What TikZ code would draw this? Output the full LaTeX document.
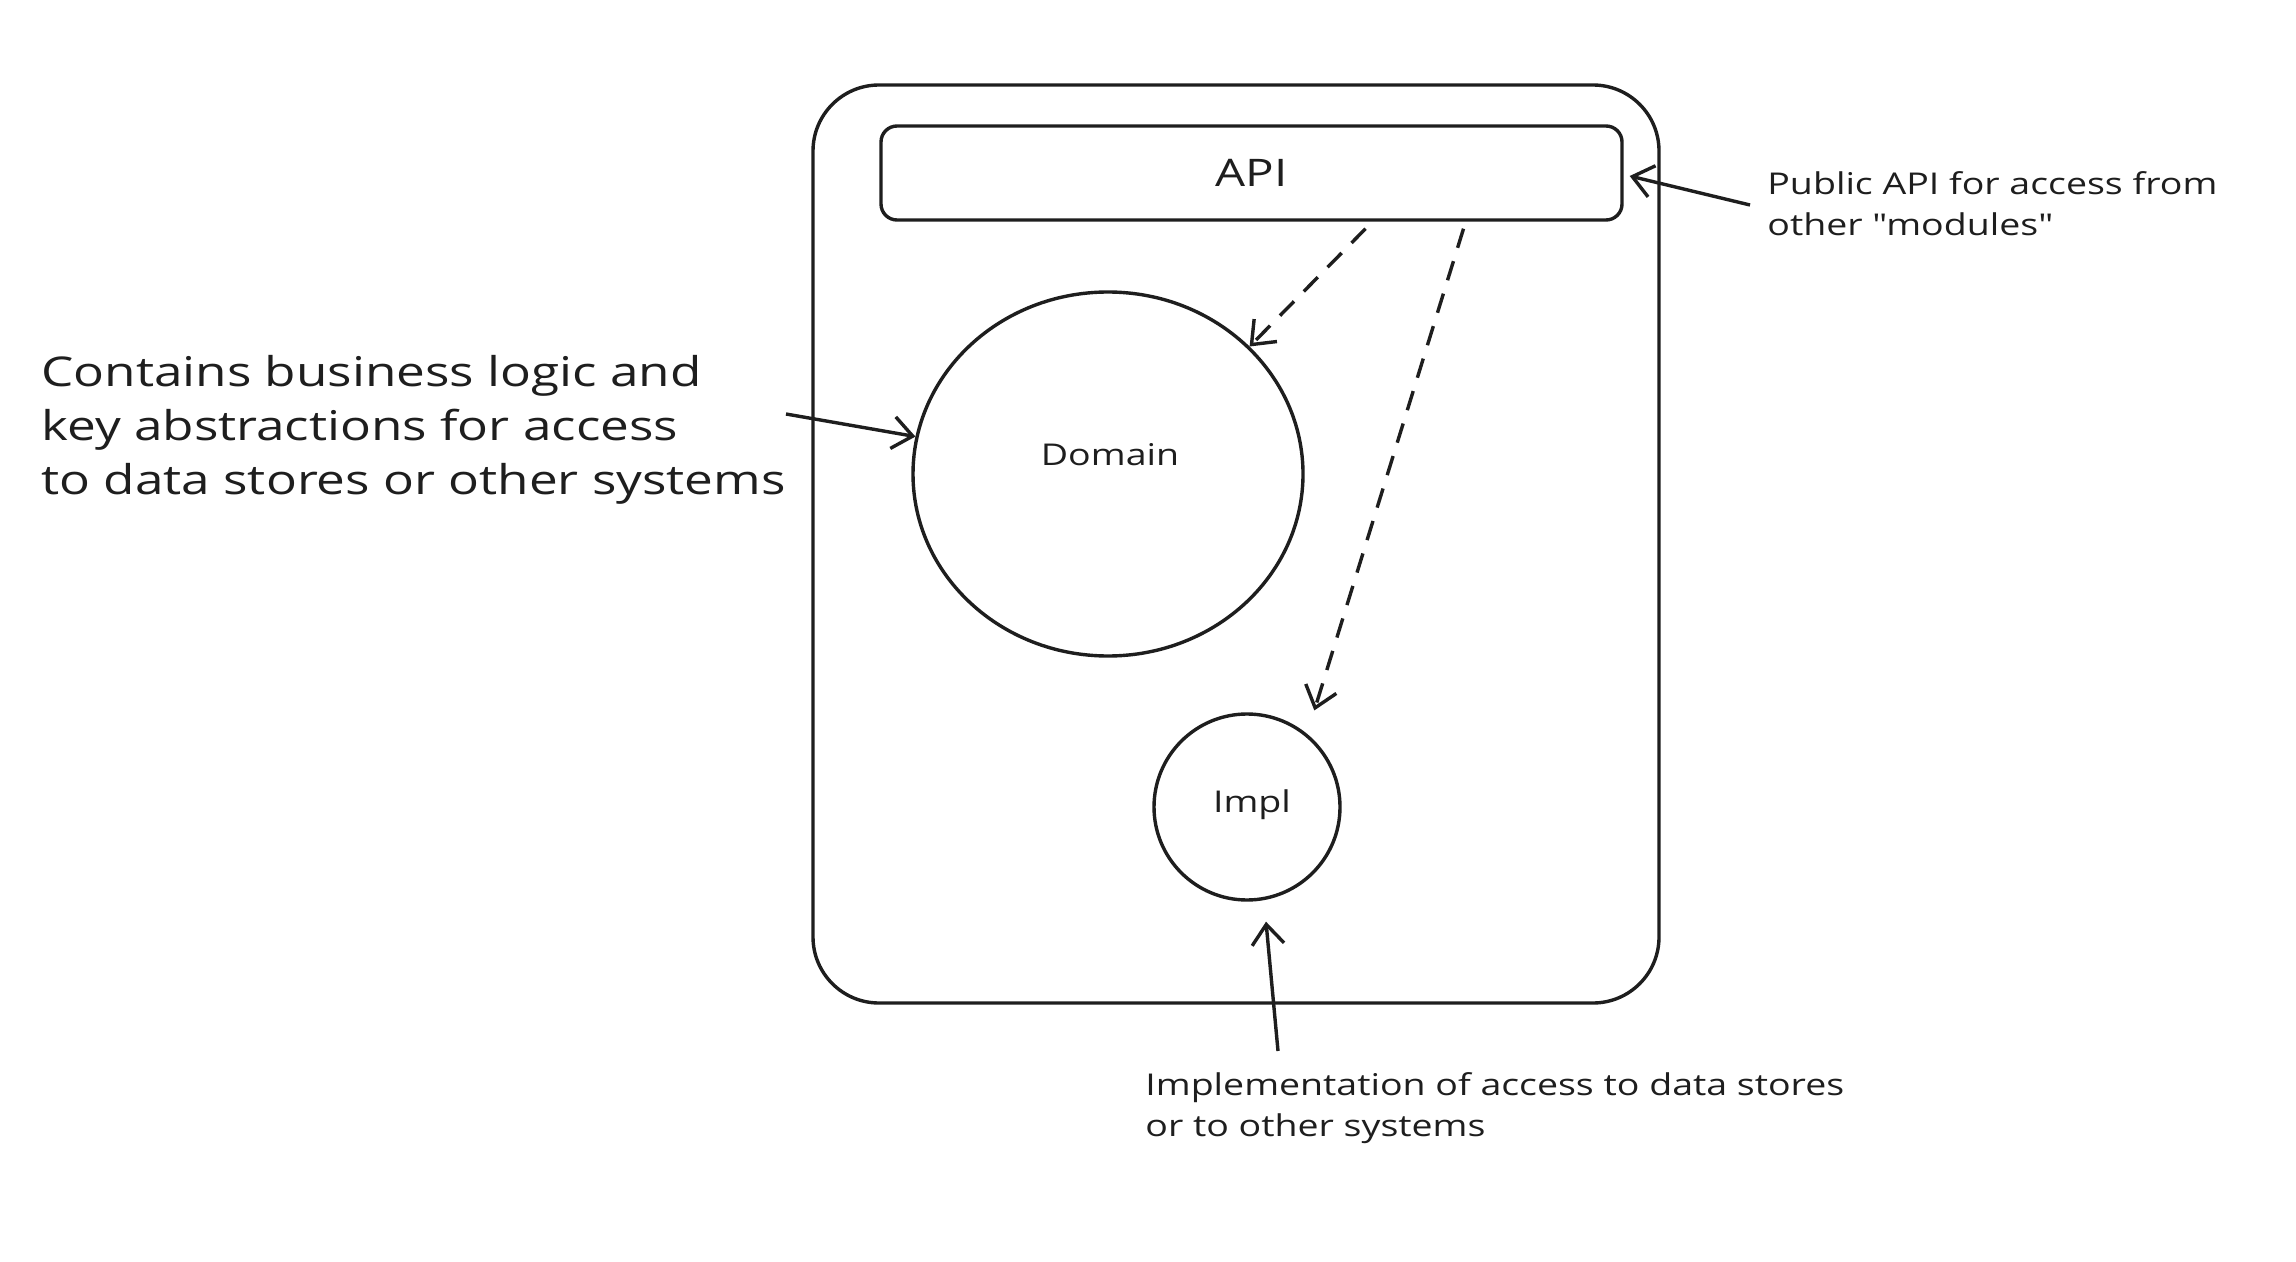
\documentclass[tikz,border=0pt]{standalone}
\usepackage{fontspec}
\setmainfont[FakeStretch=1.25, Ligatures=TeXOff]{Open Sans}
\usetikzlibrary{arrows.meta,shapes.geometric,calc}
\definecolor{inkc}{HTML}{1E1E1E}
\begin{document}
\begin{tikzpicture}[x=0.5pt,y=-0.5pt,
  ink/.style={draw=inkc, line width=1.7pt},
  barb/.style={-{Straight Barb[length=10pt,width=16pt,line width=1.7pt]}},
  dsh/.style={dash pattern=on 10pt off 7pt},
  lbl/.style={text=inkc, inner sep=0pt, align=left, anchor=west},
  small/.style={font=\fontsize{15}{20.5}\selectfont},
  big/.style={font=\fontsize{20.5}{27}\selectfont}]
\useasboundingbox (0,0) rectangle (2296,1262);
\fill[white] (0,0) rectangle (2296,1262);
% containers
\node[ink, rounded corners=33pt, minimum width=423pt, minimum height=459pt] (outer) at (1236,544) {};
\node[ink, rounded corners=8pt, minimum width=370.5pt, minimum height=47pt, font=\fontsize{19}{22}\selectfont, text=inkc] (api) at (1251.5,173) {API};
\node[ink, ellipse, minimum width=195pt, minimum height=182pt] (dom) at (1108,474) {};
\node[small, text=inkc] (domt) at (1110,455) {Domain};
\node[ink, circle, minimum size=93pt] (impl) at (1247,807) {};
\node[small, text=inkc] (implt) at (1252,805) {Impl};
% annotations
\node[lbl, big] (ltext) at (41,430) {Contains business logic and\\key abstractions for access\\to data stores or other systems};
\node[lbl, small] (rtext) at (1767,204) {Public API for access from\\other "modules"};
\node[lbl, small] (btext) at (1145,1108) {Implementation of access to data stores\\or to other systems};
% connectors
\coordinate (lsrc) at (786,414);
\coordinate (rsrc) at (1750,205);
\coordinate (bsrc) at (1278,1051);
\draw[ink,barb] (lsrc) -- (dom.169);
\draw[ink,barb] (rsrc) -- ($(api.east)+(6,3)$);
\draw[ink,barb] (bsrc) -- ($(impl.south)+(19,20)$);
\draw[ink,dsh,barb] ($(api.south)+(114,7)$) -- (dom.42);
\draw[ink,dsh,barb] ($(api.south)+(212,7)$) -- ($(impl.55)+(13,-19)$);
\end{tikzpicture}
\end{document}
